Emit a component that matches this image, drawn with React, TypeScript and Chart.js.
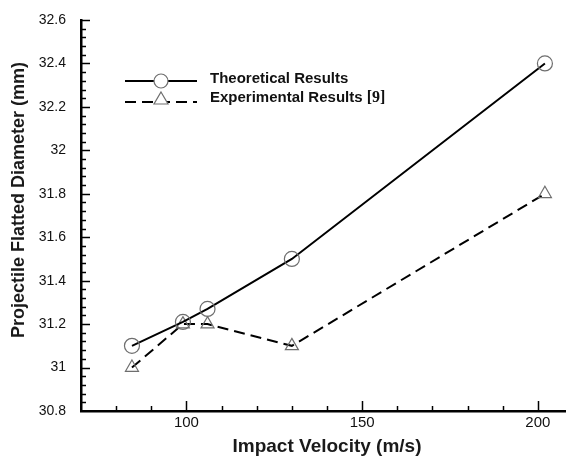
import React, { useEffect, useRef } from "react";
import { Chart, registerables } from "chart.js";

Chart.register(...registerables);

// ---- data ----
const theoryVelocity = [84.5, 99, 106, 130, 202];
const theoryDiameter = [31.1, 31.21, 31.27, 31.5, 32.4];
const expVelocity = [84.5, 99, 106, 130, 202];
const expDiameter = [31.0, 31.2, 31.2, 31.1, 31.8];

const xTickValues = [100, 150, 200];
const yTickValues = [30.8, 31, 31.2, 31.4, 31.6, 31.8, 32, 32.2, 32.4, 32.6];

const seriesNames = ["Theoretical Results", "Experimental Results "];
const refTag = "[9]";
const xTitle = "Impact Velocity (m/s)";
const yTitle = "Projectile Flatted Diameter (mm)";

const X_MIN = 70;
const X_MAX = 208;
const X_MAJOR = 50;
const X_MINOR = 10;
const Y_MIN = 30.8;
const Y_MAX = 32.6;
const Y_MAJOR = 0.2;
const Y_MINOR = 0.04;

const SANS = '"Liberation Sans", Arial, sans-serif';
const MARKER_COLOR = "#6e6e6e";
const DASH = [11, 6];

const decorPlugin = {
  id: "decor",
  afterDraw(chart: any) {
    const ctx = chart.ctx as CanvasRenderingContext2D;
    const xs = chart.scales.x;
    const ys = chart.scales.y;
    const area = chart.chartArea;
    ctx.save();

    // inward tick marks
    ctx.strokeStyle = "#000";
    ctx.lineWidth = 1.5;
    const nY = Math.round((Y_MAX - Y_MIN) / Y_MINOR);
    const perMajorY = Math.round(Y_MAJOR / Y_MINOR);
    for (let i = 1; i <= nY; i++) {
      const v = Y_MIN + i * Y_MINOR;
      const py = Math.round(ys.getPixelForValue(v)) + 0.5;
      const len = i % perMajorY === 0 ? 9 : 5;
      ctx.beginPath();
      ctx.moveTo(area.left, py);
      ctx.lineTo(area.left + len, py);
      ctx.stroke();
    }
    for (let v = X_MIN + X_MINOR; v <= X_MAX; v += X_MINOR) {
      const px = Math.round(xs.getPixelForValue(v)) + 0.5;
      const len = v % X_MAJOR === 0 ? 10 : 5;
      ctx.beginPath();
      ctx.moveTo(px, area.bottom);
      ctx.lineTo(px, area.bottom - len);
      ctx.stroke();
    }

    // axis titles
    ctx.fillStyle = "#1a1a1a";
    ctx.font = `bold 19px ${SANS}`;
    ctx.textAlign = "center";
    ctx.textBaseline = "middle";
    ctx.fillText(xTitle, 327, 447);
    ctx.save();
    ctx.translate(19, 200);
    ctx.rotate(-Math.PI / 2);
    ctx.font = `bold 18px ${SANS}`;
    ctx.fillText(yTitle, 0, 0);
    ctx.restore();

    // legend
    const lx0 = 125;
    const lx1 = 197;
    const mx = 161;
    const r1 = 81;
    const r2 = 102;
    ctx.strokeStyle = "#000";
    ctx.lineWidth = 2;
    ctx.setLineDash([]);
    ctx.beginPath();
    ctx.moveTo(lx0, r1);
    ctx.lineTo(lx1, r1);
    ctx.stroke();
    ctx.setLineDash(DASH);
    ctx.beginPath();
    ctx.moveTo(lx0, r2);
    ctx.lineTo(lx1, r2);
    ctx.stroke();
    ctx.setLineDash([]);
    ctx.strokeStyle = MARKER_COLOR;
    ctx.lineWidth = 1.2;
    ctx.fillStyle = "#fff";
    ctx.beginPath();
    ctx.arc(mx, r1, 7, 0, Math.PI * 2);
    ctx.fill();
    ctx.stroke();
    ctx.beginPath();
    ctx.moveTo(mx, r2 - 10);
    ctx.lineTo(mx + 7, r2 + 2);
    ctx.lineTo(mx - 7, r2 + 2);
    ctx.closePath();
    ctx.fill();
    ctx.stroke();

    ctx.fillStyle = "#111";
    ctx.font = `bold 15px ${SANS}`;
    ctx.textAlign = "left";
    ctx.textBaseline = "middle";
    ctx.fillText(seriesNames[0], 210, 79);
    ctx.fillText(seriesNames[1], 210, 98);
    const w = ctx.measureText(seriesNames[1]).width;
    ctx.font = `bold 16px "Liberation Serif", serif`;
    ctx.fillText(refTag, 210 + w, 98);

    ctx.restore();
  },
};

export default function App() {
  const ref = useRef<HTMLCanvasElement | null>(null);

  useEffect(() => {
    if (!ref.current) return;
    const chart = new Chart(ref.current, {
      type: "line",
      data: {
        datasets: [
          {
            label: seriesNames[0],
            data: theoryVelocity.map((x, i) => ({ x, y: theoryDiameter[i] })),
            borderColor: "#000",
            borderWidth: 2,
            pointStyle: "circle",
            pointRadius: 7.5,
            pointBorderWidth: 1.2,
            pointBorderColor: MARKER_COLOR,
            pointBackgroundColor: "rgba(0,0,0,0)",
            tension: 0,
            clip: false,
          },
          {
            label: seriesNames[1] + refTag,
            data: expVelocity.map((x, i) => ({ x, y: expDiameter[i] })),
            borderColor: "#000",
            borderWidth: 2,
            borderDash: DASH,
            pointStyle: "triangle",
            pointRadius: 7.5,
            pointBorderWidth: 1.2,
            pointBorderColor: MARKER_COLOR,
            pointBackgroundColor: "rgba(0,0,0,0)",
            tension: 0,
            clip: false,
          },
        ],
      },
      options: {
        responsive: false,
        animation: false,
        layout: { autoPadding: false, padding: { top: 20, right: 0, left: 0, bottom: 0 } },
        plugins: {
          legend: { display: false },
          tooltip: { enabled: false },
        },
        scales: {
          x: {
            type: "linear",
            min: X_MIN,
            max: X_MAX,
            afterBuildTicks: (s: any) => {
              s.ticks = xTickValues.map((value) => ({ value }));
            },
            afterFit: (s: any) => {
              s.height = 48;
              s.paddingLeft = 0;
              s.paddingRight = 0;
            },
            grid: { display: false, drawTicks: false },
            border: { display: true, color: "#000", width: 2.5 },
            ticks: {
              padding: 3,
              autoSkip: false,
              maxRotation: 0,
              color: "#111",
              font: { family: SANS, size: 15 },
              callback: (v: any) => String(v),
            },
          },
          y: {
            type: "linear",
            min: Y_MIN,
            max: Y_MAX,
            afterBuildTicks: (s: any) => {
              s.ticks = yTickValues.map((value) => ({ value }));
            },
            afterFit: (s: any) => {
              s.width = 81;
              s.paddingTop = 0;
              s.paddingBottom = 0;
            },
            grid: { display: false, drawTicks: false },
            border: { display: true, color: "#000", width: 2.5 },
            ticks: {
              padding: 15,
              color: "#111",
              font: { family: SANS, size: 14 },
              callback: (v: any) => String(Number(Number(v).toFixed(1))),
            },
          },
        },
      },
      plugins: [decorPlugin],
    });
    return () => chart.destroy();
  }, []);

  return (
    <div style={{ position: "fixed", left: 0, top: 0, width: 566, height: 459, background: "#fff" }}>
      <canvas ref={ref} width={566} height={459} style={{ display: "block" }} />
    </div>
  );
}
